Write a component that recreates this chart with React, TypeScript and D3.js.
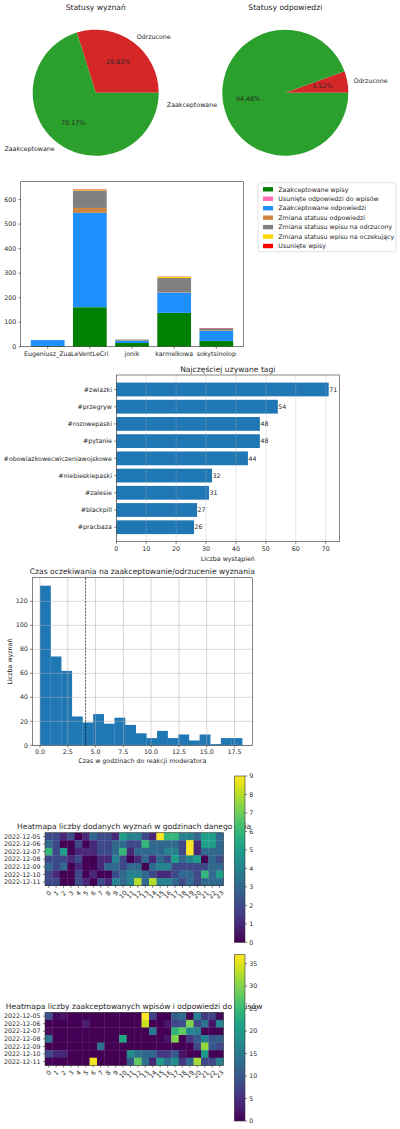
import React from 'react';
import * as d3 from 'd3';

const FONT = "'DejaVu Sans', sans-serif";
const FS = 6.3;
const TFS = 7.6;
const TXT = '#262626';
const SPINE = '#333';
const TICK = 2.2;

// ---------- Pie data ----------
const pieLabels = ['Odrzucone', 'Zaakceptowane'];
const pieColors = ['#d62728', '#2ca02c'];
const postStatusPct = [29.83, 70.17];
const replyStatusPct = [5.52, 94.48];

// ---------- Stacked bar data ----------
const users = ['Eugeniusz_Zua', 'LeVentLeCri', 'jonik', 'karmelkowa', 'sokytsinolop'];
const actionNames = [
  'Zaakceptowane wpisy',
  'Usunięte odpowiedzi do wpisów',
  'Zaakceptowane odpowiedzi',
  'Zmiana statusu odpowiedzi',
  'Zmiana statusu wpisu na odrzucony',
  'Zmiana statusu wpisu na oczekujący',
  'Usunięte wpisy',
];
const actionColors = ['#008000', '#ff69b4', '#1e90ff', '#cd853f', '#808080', '#ffd700', '#ff0000'];
const acceptedPosts = [3, 161, 15, 138, 23];
const deletedReplies = [0, 0, 0, 0, 0];
const acceptedReplies = [24, 385, 9, 82, 41];
const replyStatusChanges = [0, 20, 1, 1, 2];
const rejectedChanges = [0, 71, 4, 59, 9];
const pendingChanges = [0, 2, 0, 5, 0];
const deletedPosts = [0, 2, 0, 1, 1];
const actionValues = [acceptedPosts, deletedReplies, acceptedReplies, replyStatusChanges, rejectedChanges, pendingChanges, deletedPosts];
const barTicks = [0, 100, 200, 300, 400, 500, 600];

// ---------- Tags ----------
const tags = ['#zwiazki', '#przegryw', '#rozowepaski', '#pytanie', '#obowiazkowecwiczeniawojskowe', '#niebieskiepaski', '#zalesie', '#blackpill', '#pracbaza'];
const tagCounts = [71, 54, 48, 48, 44, 32, 31, 27, 26];
const tagTicks = [0, 10, 20, 30, 40, 50, 60, 70];

// ---------- Histogram ----------
const waitCounts = [133, 74, 62, 24, 19, 26, 18, 23, 17, 10, 6, 12, 6, 9, 4, 9, 1, 6, 6];
const waitMin = 0;
const waitMax = 18.19;
const waitMean = 4.1;
const histXTicks = [0, 2.5, 5, 7.5, 10, 12.5, 15, 17.5];
const histYTicks = [0, 20, 40, 60, 80, 100, 120];

// ---------- Heatmaps ----------
const days = ['2022-12-05', '2022-12-06', '2022-12-07', '2022-12-08', '2022-12-09', '2022-12-10', '2022-12-11'];
const hours = d3.range(24).map(String);
const addedHeat = [
  [2, 2, 1, 2, 0, 1, 3, 2, 2, 1, 5, 4, 4, 2, 1, 9, 6, 6, 4, 4, 3, 5, 5, 3],
  [3, 2, 0, 0, 2, 0, 1, 2, 2, 3, 3, 2, 2, 6, 3, 3, 3, 3, 2, 9, 1, 5, 5, 3],
  [6, 2, 5, 0, 1, 1, 1, 2, 2, 3, 6, 1, 3, 3, 3, 3, 4, 4, 2, 9, 1, 3, 3, 3],
  [2, 2, 2, 1, 2, 0, 0, 1, 1, 4, 2, 0, 1, 3, 1, 3, 2, 5, 3, 4, 5, 0, 3, 2],
  [3, 2, 3, 0, 1, 0, 0, 1, 3, 3, 2, 3, 3, 0, 3, 4, 4, 2, 2, 2, 2, 2, 3, 3],
  [2, 1, 0, 0, 2, 0, 1, 0, 0, 2, 3, 4, 4, 3, 2, 1, 1, 2, 3, 3, 2, 6, 3, 5],
  [2, 2, 0, 0, 2, 1, 0, 2, 1, 4, 3, 4, 8, 3, 8, 4, 4, 3, 2, 3, 2, 3, 3, 3],
];
const addedTicks = [0, 1, 2, 3, 4, 5, 6, 7, 8, 9];
const acceptedHeat = [
  [9, 1, 2, 0, 0, 0, 0, 0, 0, 0, 0, 0, 0, 37, 7, 0, 0, 11, 13, 0, 16, 6, 7, 1],
  [0, 0, 0, 0, 0, 3, 0, 0, 0, 0, 0, 0, 0, 34, 0, 0, 2, 8, 9, 30, 8, 14, 2, 17],
  [1, 0, 0, 0, 0, 0, 0, 0, 0, 0, 0, 0, 0, 0, 15, 0, 0, 24, 28, 17, 16, 0, 0, 0],
  [14, 0, 0, 0, 0, 0, 0, 0, 0, 0, 22, 0, 0, 0, 0, 0, 2, 30, 0, 6, 10, 16, 10, 11],
  [0, 0, 0, 0, 0, 0, 0, 14, 0, 0, 0, 0, 0, 0, 0, 0, 0, 0, 0, 0, 8, 31, 10, 8],
  [8, 4, 4, 0, 0, 0, 0, 0, 0, 0, 0, 18, 14, 12, 12, 6, 6, 10, 2, 0, 0, 20, 0, 0],
  [0, 0, 0, 0, 0, 0, 36, 0, 0, 0, 0, 10, 28, 14, 4, 20, 14, 18, 6, 12, 32, 8, 8, 16],
];
const acceptedTicks = [0, 5, 10, 15, 20, 25, 30, 35];

function Frame({ L, R, T, B }: any) {
  return <rect x={L} y={T} width={R - L} height={B - T} fill="none" stroke={SPINE} strokeWidth={0.6} />;
}

function PieChart({ cx, cy, r, title, values }: any) {
  const pie = d3.pie<number>().sort(null).startAngle(Math.PI / 2).endAngle(Math.PI / 2 - 2 * Math.PI);
  const arcs = pie(values);
  const arc = d3.arc<any>().innerRadius(0).outerRadius(r);
  return (
    <g>
      <text x={cx} y={10} textAnchor="middle" fontSize={TFS} fill={TXT}>{title}</text>
      {arcs.map((a, i) => (
        <path key={i} d={arc(a) as string} transform={`translate(${cx},${cy})`} fill={pieColors[i]} />
      ))}
      {arcs.map((a, i) => {
        const m = (a.startAngle + a.endAngle) / 2;
        const lx = cx + 1.1 * r * Math.sin(m);
        const ly = cy - 1.1 * r * Math.cos(m);
        const px = cx + 0.6 * r * Math.sin(m);
        const py = cy - 0.6 * r * Math.cos(m);
        return (
          <g key={'l' + i}>
            <text x={lx} y={ly} dy="0.35em" textAnchor={lx > cx ? 'start' : 'end'} fontSize={FS} fill={TXT}>{pieLabels[i]}</text>
            <text x={px} y={py} dy="0.35em" textAnchor="middle" fontSize={FS} fill={TXT}>{values[i].toFixed(2)}%</text>
          </g>
        );
      })}
    </g>
  );
}

function StackedBars() {
  const L = 20.7, R = 243.3, T = 181.7, B = 346.7;
  const x = d3.scaleLinear().domain([-0.64, 4.64]).range([L, R]);
  const rows = users.map((u, i) => {
    const o: any = { user: u };
    actionNames.forEach((n, k) => (o[n] = actionValues[k][i]));
    return o;
  });
  const stacked = d3.stack<any>().keys(actionNames)(rows);
  const maxTotal = d3.max(stacked[stacked.length - 1], (d) => d[1]) as number;
  const y = d3.scaleLinear().domain([0, maxTotal * 1.05]).range([B, T]);
  const bw = x(0.4) - x(0);
  const lx = 258, ly = 182.7, lw = 138, lh = 69;
  return (
    <g>
      {stacked.map((s, k) =>
        s.map((d, i) =>
          d[1] - d[0] > 0 ? (
            <rect key={k + '-' + i} x={x(i) - bw} width={2 * bw} y={y(d[1])} height={y(d[0]) - y(d[1])} fill={actionColors[k]} />
          ) : null
        )
      )}
      <Frame L={L} R={R} T={T} B={B} />
      {barTicks.map((t) => (
        <g key={t}>
          <line x1={L - TICK} x2={L} y1={y(t)} y2={y(t)} stroke={SPINE} strokeWidth={0.6} />
          <text x={L - 4.4} y={y(t)} dy="0.35em" textAnchor="end" fontSize={FS} fill={TXT}>{t}</text>
        </g>
      ))}
      {users.map((u, i) => (
        <g key={u}>
          <line x1={x(i)} x2={x(i)} y1={B} y2={B + TICK} stroke={SPINE} strokeWidth={0.6} />
          <text x={x(i)} y={B + 9} textAnchor="middle" fontSize={FS} fill={TXT}>{u}</text>
        </g>
      ))}
      <rect x={lx} y={ly} width={lw} height={lh} rx={1.5} fill="#fff" fillOpacity={0.8} stroke="#d0d0d0" strokeWidth={0.6} />
      {actionNames.map((n, k) => {
        const cy = 189.3 + k * 9.45;
        return (
          <g key={n}>
            <rect x={263} y={cy - 2.2} width={10} height={4.4} fill={actionColors[k]} />
            <text x={278.3} y={cy} dy="0.35em" fontSize={FS} fill={TXT}>{n}</text>
          </g>
        );
      })}
    </g>
  );
}

function TagBars() {
  const L = 116.3, R = 339.3, T = 375, B = 541.7;
  const x = d3.scaleLinear().domain([0, (d3.max(tagCounts) as number) * 1.05]).range([L, R]);
  const y = d3.scaleLinear().domain([-0.84, tags.length - 1 + 0.84]).range([T, B]);
  const bh = y(0.4) - y(0);
  return (
    <g>
      <text x={(L + R) / 2} y={371.5} textAnchor="middle" fontSize={TFS} fill={TXT}>Najczęściej uzywane tagi</text>
      {tags.map((t, i) => (
        <rect key={t} x={L} y={y(i) - bh} width={x(tagCounts[i]) - L} height={2 * bh} fill="#1f77b4" />
      ))}
      {tagTicks.map((t) => (
        <line key={'g' + t} x1={x(t)} x2={x(t)} y1={T} y2={B} stroke="#b0b0b0" strokeWidth={0.5} strokeDasharray="2,1.2" />
      ))}
      <Frame L={L} R={R} T={T} B={B} />
      {tagTicks.map((t) => (
        <g key={t}>
          <line x1={x(t)} x2={x(t)} y1={B} y2={B + TICK} stroke={SPINE} strokeWidth={0.6} />
          <text x={x(t)} y={B + 9} textAnchor="middle" fontSize={FS} fill={TXT}>{t}</text>
        </g>
      ))}
      {tags.map((t, i) => (
        <g key={t + 'l'}>
          <line x1={L - TICK} x2={L} y1={y(i)} y2={y(i)} stroke={SPINE} strokeWidth={0.6} />
          <text x={L - 4.4} y={y(i)} dy="0.35em" textAnchor="end" fontSize={FS} fill={TXT}>{t}</text>
          <text x={x(tagCounts[i]) + 0.5} y={y(i)} dy="0.35em" fontSize={FS} fill={TXT}>{tagCounts[i]}</text>
        </g>
      ))}
      <text x={(L + R) / 2} y={561} textAnchor="middle" fontSize={FS} fill={TXT}>Liczba wystąpień</text>
    </g>
  );
}

function Histogram() {
  const L = 32.3, R = 252.3, T = 577.7, B = 745.3;
  const x = d3.scaleLinear().domain([-0.69, 19.1]).range([L, R]);
  const y = d3.scaleLinear().domain([0, (d3.max(waitCounts) as number) * 1.05]).range([B, T]);
  const bw = (waitMax - waitMin) / waitCounts.length;
  return (
    <g>
      <text x={(L + R) / 2} y={574} textAnchor="middle" fontSize={TFS} fill={TXT}>Czas oczekiwania na zaakceptowanie/odrzucenie wyznania</text>
      {waitCounts.map((c, i) => (
        <rect key={i} x={x(waitMin + i * bw)} width={x(waitMin + (i + 1) * bw) - x(waitMin + i * bw) + 0.2} y={y(c)} height={B - y(c)} fill="#1f77b4" />
      ))}
      {histXTicks.map((t) => (
        <line key={'gx' + t} x1={x(t)} x2={x(t)} y1={T} y2={B} stroke="#b0b0b0" strokeWidth={0.5} />
      ))}
      {histYTicks.map((t) => (
        <line key={'gy' + t} x1={L} x2={R} y1={y(t)} y2={y(t)} stroke="#b0b0b0" strokeWidth={0.5} />
      ))}
      <line x1={x(waitMean)} x2={x(waitMean)} y1={T} y2={B} stroke="#000" strokeWidth={0.6} strokeDasharray="2.3,1" />
      <Frame L={L} R={R} T={T} B={B} />
      {histXTicks.map((t) => (
        <g key={t}>
          <line x1={x(t)} x2={x(t)} y1={B} y2={B + TICK} stroke={SPINE} strokeWidth={0.6} />
          <text x={x(t)} y={B + 9} textAnchor="middle" fontSize={FS} fill={TXT}>{t.toFixed(1)}</text>
        </g>
      ))}
      {histYTicks.map((t) => (
        <g key={'y' + t}>
          <line x1={L - TICK} x2={L} y1={y(t)} y2={y(t)} stroke={SPINE} strokeWidth={0.6} />
          <text x={L - 4.4} y={y(t)} dy="0.35em" textAnchor="end" fontSize={FS} fill={TXT}>{t}</text>
        </g>
      ))}
      <text x={(L + R) / 2} y={763} textAnchor="middle" fontSize={FS} fill={TXT}>Czas w godzinach do reakcji moderatora</text>
      <text transform={`translate(12,${(T + B) / 2}) rotate(-90)`} textAnchor="middle" fontSize={FS} fill={TXT}>Liczba wyznań</text>
    </g>
  );
}

function Heatmap({ id, data, title, T, cbT, cbB, ticks, titleY }: any) {
  const L = 45, R = 223.3;
  const B = T + 53;
  const x = d3.scaleBand().domain(hours).range([L, R]);
  const y = d3.scaleBand().domain(days).range([T, B]);
  const flat = (data as number[][]).flat();
  const vmin = d3.min(flat) as number, vmax = d3.max(flat) as number;
  const color = d3.scaleSequential(d3.interpolateViridis).domain([vmin, vmax]);
  const cbL = 234.3, cbR = 245;
  const cy = d3.scaleLinear().domain([vmin, vmax]).range([cbB, cbT]);
  const stops = d3.range(0, 1.0001, 0.05);
  return (
    <g>
      <defs>
        <linearGradient id={id} x1="0" y1="1" x2="0" y2="0">
          {stops.map((s) => (
            <stop key={s} offset={s} stopColor={d3.interpolateViridis(s)} />
          ))}
        </linearGradient>
      </defs>
      <text x={(L + R) / 2} y={titleY} textAnchor="middle" fontSize={TFS} fill={TXT}>{title}</text>
      {(data as number[][]).map((row, r) =>
        row.map((v, c) => (
          <rect key={r + '-' + c} x={x(hours[c])} y={y(days[r])} width={x.bandwidth() + 0.3} height={y.bandwidth() + 0.3} fill={color(v)} />
        ))
      )}
      <Frame L={L} R={R} T={T} B={B} />
      {days.map((d) => {
        const yy = (y(d) as number) + y.bandwidth() / 2;
        return (
          <g key={d}>
            <line x1={L - TICK} x2={L} y1={yy} y2={yy} stroke={SPINE} strokeWidth={0.6} />
            <text x={L - 4.4} y={yy} dy="0.35em" textAnchor="end" fontSize={FS} fill={TXT}>{d}</text>
          </g>
        );
      })}
      {hours.map((h) => {
        const xx = (x(h) as number) + x.bandwidth() / 2;
        const w = h.length * 0.636 * FS;
        const hh = 0.73 * FS;
        const off = ((w + hh) * 0.7071) / 2;
        return (
          <g key={h}>
            <line x1={xx} x2={xx} y1={B} y2={B + TICK} stroke={SPINE} strokeWidth={0.6} />
            <text transform={`translate(${xx},${B + 4.4 + off}) rotate(-45)`} dy="0.35em" textAnchor="middle" fontSize={FS} fill={TXT}>{h}</text>
          </g>
        );
      })}
      <rect x={cbL} y={cbT} width={cbR - cbL} height={cbB - cbT} fill={`url(#${id})`} stroke={SPINE} strokeWidth={0.6} />
      {ticks.map((t: number) => (
        <g key={'cb' + t}>
          <line x1={cbR} x2={cbR + TICK} y1={cy(t)} y2={cy(t)} stroke={SPINE} strokeWidth={0.6} />
          <text x={cbR + 4.2} y={cy(t)} dy="0.35em" fontSize={FS} fill={TXT}>{t}</text>
        </g>
      ))}
    </g>
  );
}

export default function App() {
  return (
    <svg width={400} height={1129} style={{ position: 'absolute', left: 0, top: 0, background: '#fff' }} fontFamily={FONT}>
      <rect x={0} y={0} width={400} height={1129} fill="#fff" />
      <PieChart cx={95.7} cy={92.7} r={63} title="Statusy wyznań" values={postStatusPct} />
      <PieChart cx={285.3} cy={92.7} r={63} title="Statusy odpowiedzi" values={replyStatusPct} />
      <StackedBars />
      <TagBars />
      <Histogram />
      <Heatmap id="cb1" data={addedHeat} title="Heatmapa liczby dodanych wyznań w godzinach danego dnia" T={832.7} cbT={776} cbB={942.3} ticks={addedTicks} titleY={829} />
      <Heatmap id="cb2" data={acceptedHeat} title="Heatmapa liczby zaakceptowanych wpisów i odpowiedzi do wpisów" T={1012.3} cbT={954.7} cbB={1121} ticks={acceptedTicks} titleY={1008.5} />
    </svg>
  );
}
